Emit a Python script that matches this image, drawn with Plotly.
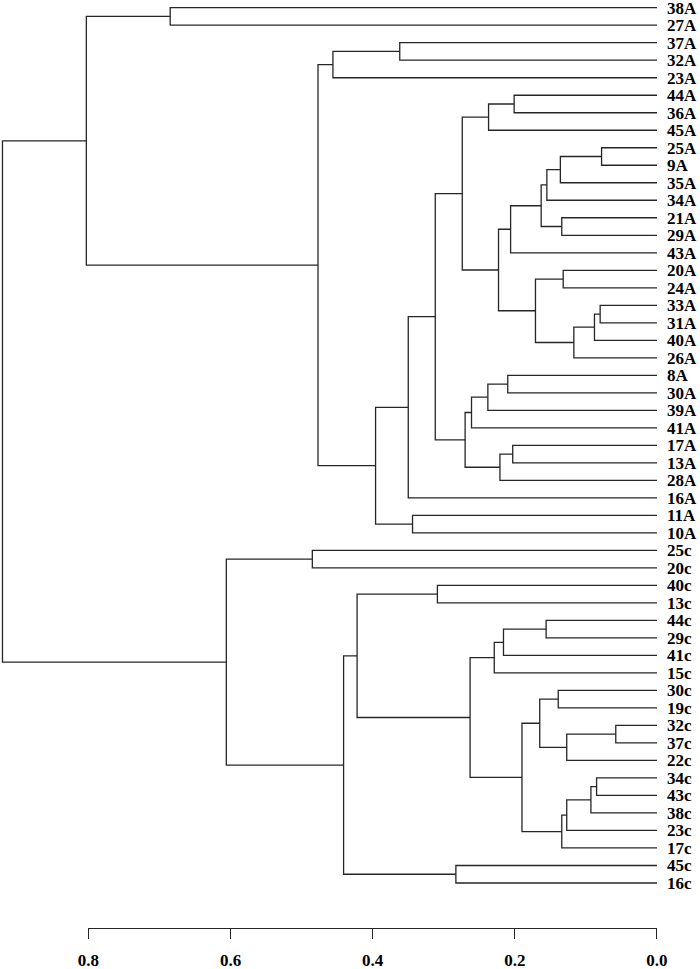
import plotly.graph_objects as go

# ---------------- data ----------------
leaf_labels = ["38A", "27A", "37A", "32A", "23A", "44A", "36A", "45A", "25A", "9A",
               "35A", "34A", "21A", "29A", "43A", "20A", "24A", "33A", "31A", "40A",
               "26A", "8A", "30A", "39A", "41A", "17A", "13A", "28A", "16A", "11A",
               "10A", "25c", "20c", "40c", "13c", "44c", "29c", "41c", "15c", "30c",
               "19c", "32c", "37c", "22c", "34c", "43c", "38c", "23c", "17c", "45c",
               "16c"]

merge_names = ["n1", "n2", "n3", "n4", "n5", "n6", "n7", "n8", "n9", "n10",
               "n11", "n12", "n13", "n14", "n15", "n16", "n17", "n18", "n19", "n20",
               "n21", "n22", "n23", "n24", "n25", "n26", "n27", "n28", "n29", "n30",
               "n31", "n32", "n33", "n34", "n35", "n36", "n37", "n38", "n39", "n40",
               "n41", "n42", "n43", "n44", "n45", "n46", "n47", "n48", "n49", "root"]
merge_left = ["38A", "37A", "n2", "44A", "n4", "25A", "n6", "n7", "21A", "n8",
              "n10", "20A", "33A", "n13", "n14", "n12", "n11", "n5", "8A", "n19",
              "n20", "17A", "n22", "n21", "n18", "n25", "11A", "n26", "n3", "n1",
              "25c", "40c", "44c", "n33", "n34", "30c", "32c", "n37", "n36", "34c",
              "n40", "n41", "n42", "n39", "n35", "n32", "45c", "n46", "n31", "n30"]
merge_right = ["27A", "32A", "23A", "36A", "45A", "9A", "35A", "34A", "29A", "n9",
               "43A", "24A", "31A", "40A", "26A", "n15", "n16", "n17", "30A", "39A",
               "41A", "13A", "28A", "n23", "n24", "16A", "10A", "n27", "n28", "n29",
               "20c", "13c", "29c", "41c", "15c", "19c", "37c", "22c", "n38", "43c",
               "38c", "23c", "17c", "n43", "n44", "n45", "16c", "n47", "n48", "n49"]
merge_height = [0.685, 0.362, 0.456, 0.201, 0.237, 0.078, 0.136, 0.155, 0.134, 0.163,
                0.206, 0.132, 0.080, 0.088, 0.117, 0.171, 0.223, 0.274, 0.210, 0.238,
                0.261, 0.203, 0.221, 0.270, 0.312, 0.350, 0.344, 0.396, 0.477, 0.803,
                0.485, 0.309, 0.156, 0.216, 0.229, 0.139, 0.058, 0.127, 0.165, 0.085,
                0.093, 0.127, 0.134, 0.190, 0.263, 0.422, 0.283, 0.441, 0.606, 0.921]

axis_ticks = [0.8, 0.6, 0.4, 0.2, 0.0]
axis_ticktext = ["0.8", "0.6", "0.4", "0.2", "0.0"]

# ---------------- build dendrogram segments ----------------
pos = {lab: (0.0, i) for i, lab in enumerate(leaf_labels)}  # (height, y)
xs, ys = [], []
for name, l, r, h in zip(merge_names, merge_left, merge_right, merge_height):
    hl, yl = pos[l]
    hr, yr = pos[r]
    xs += [hl, h, h, hr, None]
    ys += [yl, yl, yr, yr, None]
    pos[name] = (h, (yl + yr) / 2.0)

W, H = 700, 969
x_zero_px = 657.3
px_per_unit = 711.0
row0_px, row_step = 7.7, 17.5
axis_px = 927.7

x_max = x_zero_px / px_per_unit
y_top = -row0_px / row_step
y_bot = (axis_px - row0_px) / row_step

FONT = "Liberation Serif, Times New Roman, serif"
LINE = "#262626"

fig = go.Figure()
fig.add_trace(go.Scatter(x=xs, y=ys, mode="lines",
                         line=dict(color=LINE, width=1.3),
                         hoverinfo="skip", showlegend=False, cliponaxis=False))
fig.add_trace(go.Scatter(x=[None], y=[None], xaxis="x2", yaxis="y",
                         mode="lines", showlegend=False, hoverinfo="skip"))

dom_left = (x_zero_px - axis_ticks[0] * px_per_unit) / x_zero_px

fig.update_layout(
    width=W, height=H, autosize=False,
    margin=dict(l=0, r=W - x_zero_px, t=0, b=H - axis_px, pad=0, autoexpand=False),
    paper_bgcolor="white", plot_bgcolor="rgba(0,0,0,0)",
    xaxis=dict(range=[x_max, 0], domain=[0, 1], visible=False, fixedrange=True,
               automargin=False),
    xaxis2=dict(range=[axis_ticks[0], 0], domain=[dom_left, 1], anchor="y",
                showline=True, linecolor=LINE, linewidth=1.3,
                ticks="outside", ticklen=10, tickwidth=1.3, tickcolor=LINE,
                tickvals=axis_ticks, ticktext=axis_ticktext,
                tickfont=dict(family=FONT, size=17, color="black", weight="bold"),
                ticklabelstandoff=6, automargin=False, ticklabeloverflow="allow",
                showgrid=False, zeroline=False),
    yaxis=dict(range=[y_bot, y_top], side="right", showgrid=False, zeroline=False,
               showline=False, ticks="", automargin=False,
               tickvals=list(range(len(leaf_labels))), ticktext=leaf_labels,
               tickfont=dict(family=FONT, size=17, color="black", weight="bold"),
               ticklabelstandoff=9, ticklabeloverflow="allow"),
)

fig.write_html("out.html", config={"displayModeBar": False},
               post_script="document.body.style.margin='0';")
